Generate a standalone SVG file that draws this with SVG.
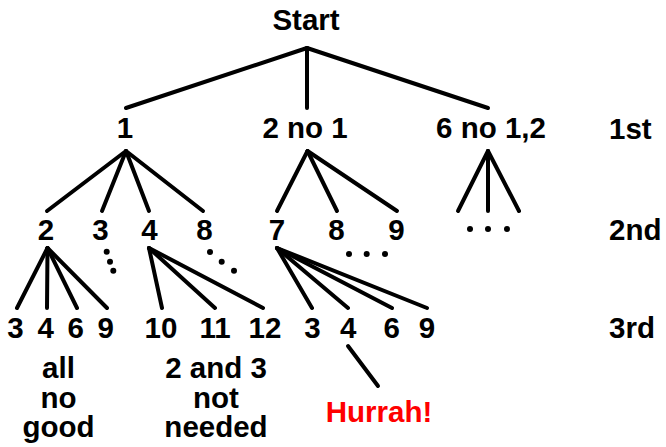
<svg xmlns="http://www.w3.org/2000/svg" width="666" height="447" viewBox="0 0 666 447">
<style>
text{font-family:"Liberation Sans",Arial,sans-serif;font-weight:bold;font-size:29.5px;fill:#000;text-anchor:middle}
.lvl{text-anchor:start}
.red{fill:#ff0000}
#connectors line{stroke:#000;stroke-width:4;stroke-linecap:round}
.dot{fill:#000}
</style>
<rect width="666" height="447" fill="#fff"/>
<g id="connectors">
<line x1="307" y1="48" x2="126" y2="108"/>
<line x1="307" y1="48" x2="307" y2="108"/>
<line x1="307" y1="48" x2="488" y2="108"/>
<line x1="126" y1="151" x2="47" y2="211"/>
<line x1="126" y1="151" x2="102" y2="211"/>
<line x1="126" y1="151" x2="149" y2="211"/>
<line x1="126" y1="151" x2="203" y2="211"/>
<line x1="307.5" y1="151" x2="277" y2="211"/>
<line x1="307.5" y1="151" x2="337" y2="211"/>
<line x1="307.5" y1="151" x2="397" y2="211"/>
<line x1="488" y1="151" x2="458" y2="211"/>
<line x1="488" y1="151" x2="488" y2="211"/>
<line x1="488" y1="151" x2="519" y2="211"/>
<line x1="47.5" y1="248" x2="17" y2="308"/>
<line x1="47.5" y1="248" x2="47" y2="308"/>
<line x1="47.5" y1="248" x2="77" y2="308"/>
<line x1="47.5" y1="248" x2="107" y2="308"/>
<line x1="149" y1="248" x2="162" y2="308"/>
<line x1="149" y1="248" x2="215" y2="308"/>
<line x1="149" y1="248" x2="263" y2="308"/>
<line x1="277" y1="248" x2="312" y2="308"/>
<line x1="277" y1="248" x2="348" y2="308"/>
<line x1="277" y1="248" x2="392" y2="308"/>
<line x1="277" y1="248" x2="427" y2="308"/>
<line x1="348" y1="346" x2="378" y2="386"/>
</g>
<g id="dots">
<circle class="dot" cx="106.7" cy="251.7" r="3"/>
<circle class="dot" cx="110" cy="261.7" r="3"/>
<circle class="dot" cx="113.3" cy="270.7" r="3"/>
<circle class="dot" cx="210" cy="252" r="3"/>
<circle class="dot" cx="221.7" cy="261.7" r="3"/>
<circle class="dot" cx="234" cy="270.7" r="3"/>
<circle class="dot" cx="349" cy="254" r="3"/>
<circle class="dot" cx="366.7" cy="254" r="3"/>
<circle class="dot" cx="385" cy="254" r="3"/>
<circle class="dot" cx="470" cy="229" r="3"/>
<circle class="dot" cx="488" cy="229" r="3"/>
<circle class="dot" cx="507" cy="229" r="3"/>
</g>
<g id="start"><text x="306" y="30">Start</text></g>
<g id="n1"><text x="125" y="138">1</text></g>
<g id="n2no1"><text x="305" y="138">2 no 1</text></g>
<g id="n6no12"><text x="491" y="138">6 no 1,2</text></g>
<g id="n1-2"><text x="46" y="240">2</text></g>
<g id="n1-3"><text x="100.5" y="240">3</text></g>
<g id="n1-4"><text x="149.5" y="240">4</text></g>
<g id="n1-8"><text x="204.5" y="240">8</text></g>
<g id="n2-7"><text x="277" y="240">7</text></g>
<g id="n2-8"><text x="336.5" y="240">8</text></g>
<g id="n2-9"><text x="396.5" y="240">9</text></g>
<g id="n12-3"><text x="15.5" y="338">3</text></g>
<g id="n12-4"><text x="45.8" y="338">4</text></g>
<g id="n12-6"><text x="75.8" y="338">6</text></g>
<g id="n12-9"><text x="105.8" y="338">9</text></g>
<g id="n14-10"><text x="161" y="338">10</text></g>
<g id="n14-11"><text x="215" y="338">11</text></g>
<g id="n14-12"><text x="265" y="338">12</text></g>
<g id="n27-3"><text x="312.5" y="338">3</text></g>
<g id="n27-4"><text x="348.3" y="338">4</text></g>
<g id="n27-6"><text x="391.7" y="338">6</text></g>
<g id="n27-9"><text x="427" y="338">9</text></g>
<g id="note-allnogood"><text x="58.5" y="378">all</text><text x="58.5" y="408">no</text><text x="58.5" y="437">good</text></g>
<g id="note-notneeded"><text x="216" y="378">2 and 3</text><text x="216" y="408">not</text><text x="216" y="437">needed</text></g>
<g id="hurrah"><text class="red" x="379" y="421.5">Hurrah!</text></g>
<g id="levels"><text class="lvl" x="609" y="139">1st</text><text class="lvl" x="609" y="240">2nd</text><text class="lvl" x="609" y="338">3rd</text></g>
</svg>
